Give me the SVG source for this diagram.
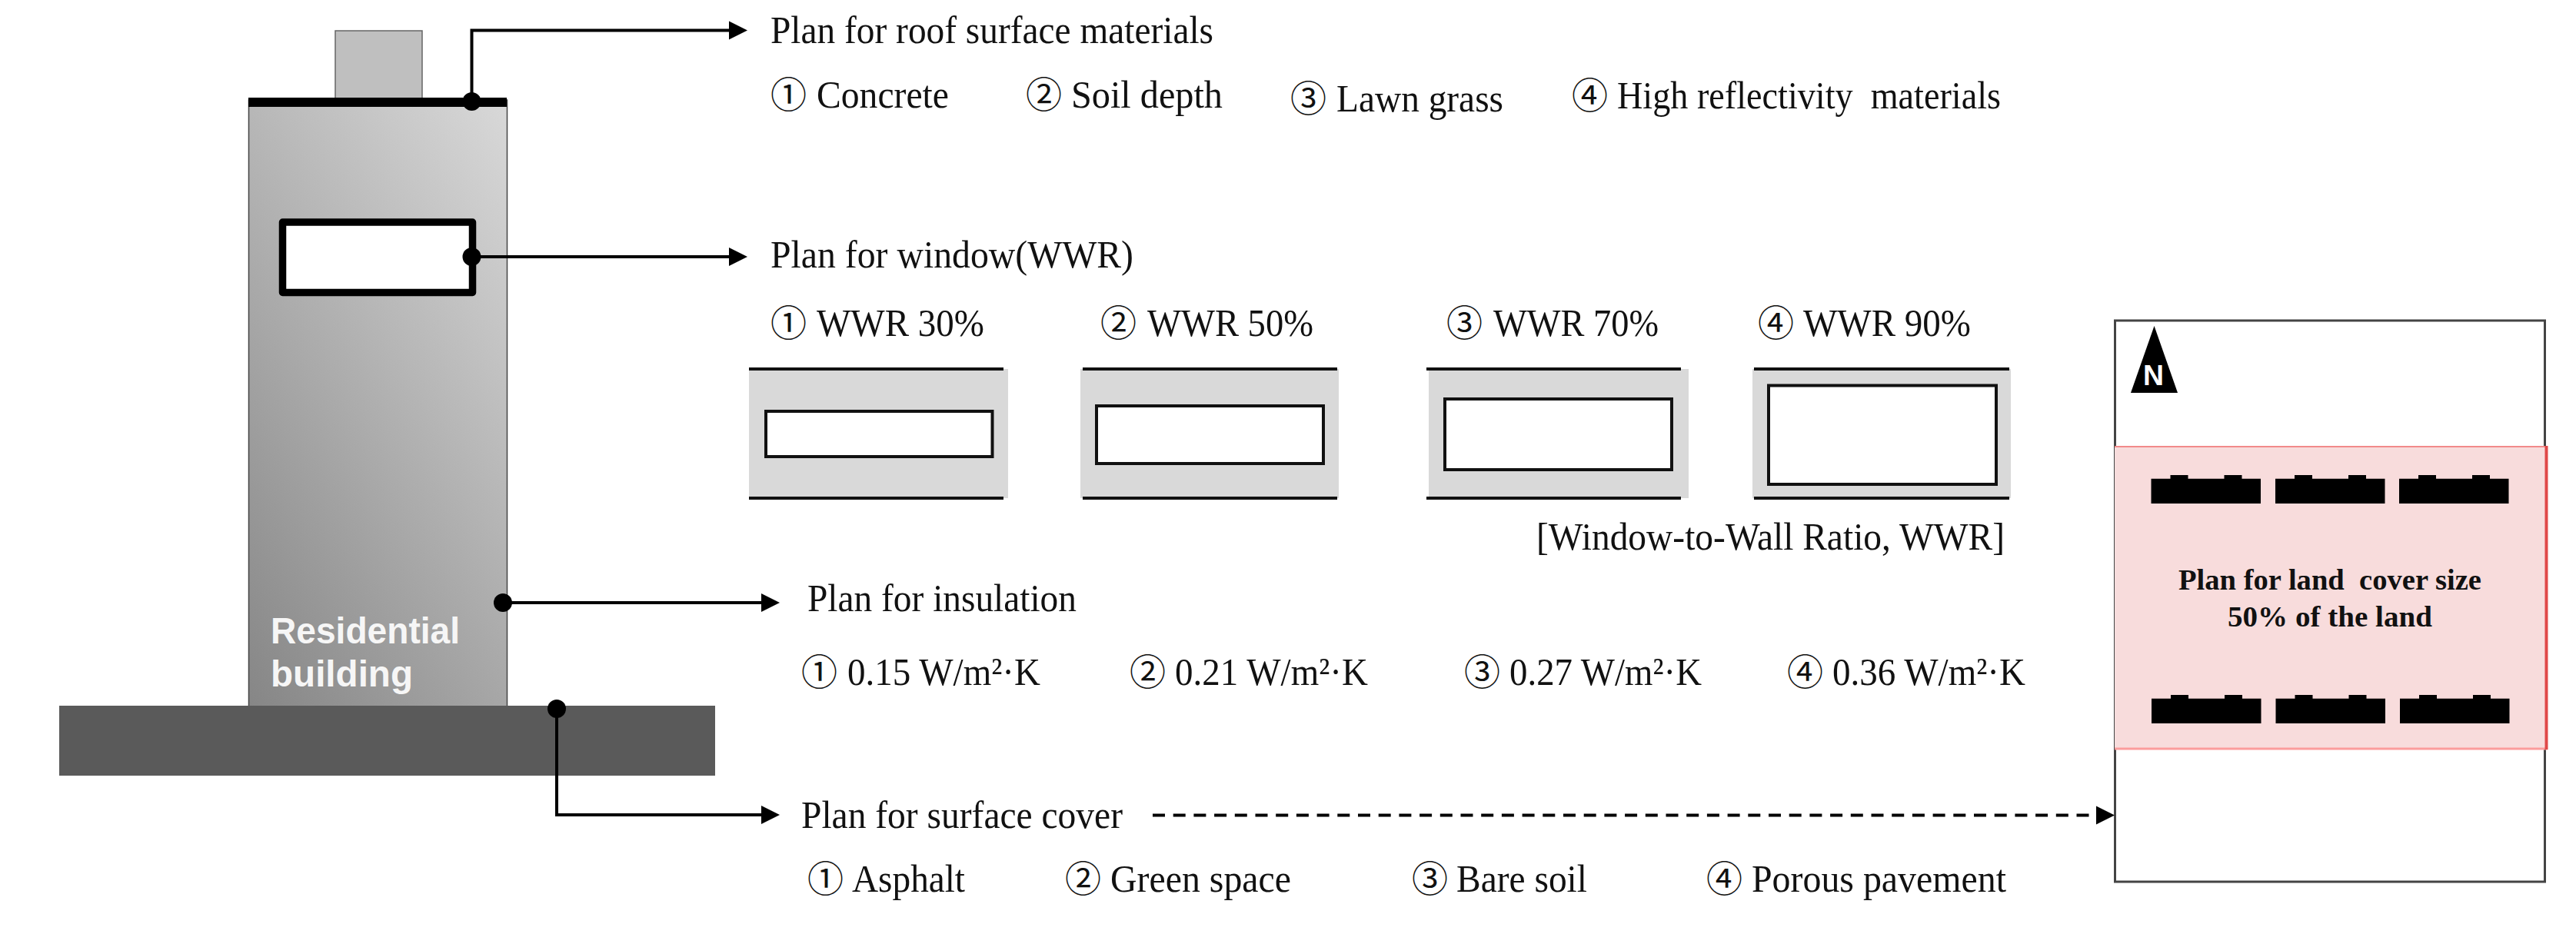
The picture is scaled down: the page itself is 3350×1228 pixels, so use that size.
<svg xmlns="http://www.w3.org/2000/svg" width="3350" height="1228" viewBox="0 0 3350 1228">
<style>
text{font-family:"Liberation Serif","Noto Sans CJK KR",serif;fill:#111;white-space:pre}
.t{font-size:50px}
.o{font-size:47px}
.b{font-size:38px;font-weight:700;fill:#111}
.w{font-family:"Liberation Sans",sans-serif;font-size:48px;font-weight:700;fill:#f6f6f6}
.n{font-family:"Liberation Sans",sans-serif;font-size:36px;font-weight:700;fill:#fff}
.wall{fill:#d9d9d9}
.edge{stroke:#111;stroke-width:4}
.win{fill:#fff;stroke:#111;stroke-width:4}
.house{fill:#000}
.c{fill:none;stroke:#000;stroke-width:4}
</style>
<defs>
<marker id="arrow" markerUnits="userSpaceOnUse" markerWidth="24" markerHeight="26" refX="14" refY="13" orient="auto"><path d="M0 1L24 13L0 25Z" fill="#000"/></marker>
<marker id="dot" markerUnits="userSpaceOnUse" markerWidth="26" markerHeight="26" refX="13" refY="13" orient="auto"><circle cx="13" cy="13" r="12" fill="#000"/></marker>
<linearGradient id="bld" gradientUnits="userSpaceOnUse" x1="323" y1="918" x2="915" y2="538"><stop offset="0" stop-color="#868686"/><stop offset="1" stop-color="#d8d8d8"/></linearGradient>
<path id="h" d="M0 4.700H25V0H48V4.700H95V0H118V4.700H142.500V37H0Z"/>
</defs>
<rect width="3350" height="1228" fill="#fff"/>
<g id="building">
<rect x="436" y="40" width="113" height="88" fill="#bfbfbf" stroke="#666" stroke-width="1.500"/>
<rect x="323.500" y="130" width="336" height="790" fill="url(#bld)" stroke="#444" stroke-width="1.500"/>
<rect x="323" y="127" width="336" height="12" fill="#000"/>
<rect x="367.500" y="289" width="247" height="91.500" fill="#fff" stroke="#000" stroke-width="9.500" stroke-linejoin="round"/>
<text class="w" x="352" y="837" textLength="246" lengthAdjust="spacingAndGlyphs">Residential</text>
<text class="w" x="352" y="893" textLength="185" lengthAdjust="spacingAndGlyphs">building</text>
</g>
<g id="ground"><rect x="77" y="918" width="853" height="91" fill="#5a5a5a"/></g>
<g id="wwr-30"><rect class="wall" x="974" y="480" width="337" height="168"/><path class="edge" d="M974 480H1305M974 648H1305"/><rect class="win" x="996" y="535" width="294.500" height="59"/></g>
<g id="wwr-50"><rect class="wall" x="1405" y="480" width="336" height="168"/><path class="edge" d="M1408 480H1739M1408 648H1739"/><rect class="win" x="1426" y="528" width="295" height="75"/></g>
<g id="wwr-70"><rect class="wall" x="1858" y="480" width="338" height="168"/><path class="edge" d="M1855 480H2186M1855 648H2186"/><rect class="win" x="1879" y="519" width="295" height="92"/></g>
<g id="wwr-90"><rect class="wall" x="2279" y="480" width="336" height="168"/><path class="edge" d="M2281 480H2613M2281 648H2613"/><rect class="win" x="2300" y="501.500" width="296" height="128.500"/></g>
<g id="site">
<rect x="2750.500" y="417" width="559" height="730" fill="#fff" stroke="#444" stroke-width="3"/>
<rect x="2750" y="580" width="563" height="394" fill="#f8dcdc"/>
<path d="M2750 581H3310" stroke="#f28a8a" stroke-width="2" fill="none"/>
<path d="M2750 974H3313" stroke="#fb9c9c" stroke-width="3" fill="none"/>
<path d="M3311.500 580V975" stroke="#e04848" stroke-width="4" fill="none"/>
<use class="house" href="#h" x="2797.500" y="618"/><use class="house" href="#h" x="2959" y="618"/><use class="house" href="#h" x="3120" y="618"/>
<use class="house" href="#h" x="2798" y="904"/><use class="house" href="#h" x="2959.500" y="904"/><use class="house" href="#h" x="3121" y="904"/>
<text class="b" x="2833" y="767" textLength="394" lengthAdjust="spacingAndGlyphs">Plan for land  cover size</text>
<text class="b" x="2897" y="815" textLength="266" lengthAdjust="spacingAndGlyphs">50% of the land</text>
<path d="M2801.500 424L2832 511H2771Z" fill="#000"/>
<text class="n" x="2787" y="501" textLength="27" lengthAdjust="spacingAndGlyphs">N</text>
</g>
<g id="connectors">
<path class="c" d="M613.500 132V39.500H962" marker-start="url(#dot)" marker-end="url(#arrow)"/>
<path class="c" d="M613.500 334H962" marker-start="url(#dot)" marker-end="url(#arrow)"/>
<path class="c" d="M654 784H1004" marker-start="url(#dot)" marker-end="url(#arrow)"/>
<path class="c" d="M724 922V1060H1004" marker-start="url(#dot)" marker-end="url(#arrow)"/>
<path class="c" d="M1499 1060.500H2740" stroke-dasharray="16 10.700" marker-end="url(#arrow)"/>
</g>
<g id="roof-labels">
<text class="t" x="1002" y="56" textLength="576" lengthAdjust="spacingAndGlyphs">Plan for roof surface materials</text>
<text class="t" x="1002" y="140"><tspan class="o">① </tspan><tspan x="1062" textLength="172" lengthAdjust="spacingAndGlyphs">Concrete</tspan></text>
<text class="t" x="1334" y="140"><tspan class="o">② </tspan><tspan x="1393" textLength="197" lengthAdjust="spacingAndGlyphs">Soil depth</tspan></text>
<text class="t" x="1678" y="145"><tspan class="o">③ </tspan><tspan x="1738" textLength="217" lengthAdjust="spacingAndGlyphs">Lawn grass</tspan></text>
<text class="t" x="2044" y="141"><tspan class="o">④ </tspan><tspan x="2103" textLength="499" lengthAdjust="spacingAndGlyphs">High reflectivity  materials</tspan></text>
</g>
<g id="window-labels">
<text class="t" x="1002" y="348" textLength="472" lengthAdjust="spacingAndGlyphs">Plan for window(WWR)</text>
<text class="t" x="1002" y="437"><tspan class="o">① </tspan><tspan x="1062" textLength="218" lengthAdjust="spacingAndGlyphs">WWR 30%</tspan></text>
<text class="t" x="1431" y="437"><tspan class="o">② </tspan><tspan x="1492" textLength="216" lengthAdjust="spacingAndGlyphs">WWR 50%</tspan></text>
<text class="t" x="1881" y="437"><tspan class="o">③ </tspan><tspan x="1942" textLength="215" lengthAdjust="spacingAndGlyphs">WWR 70%</tspan></text>
<text class="t" x="2286" y="437"><tspan class="o">④ </tspan><tspan x="2345" textLength="218" lengthAdjust="spacingAndGlyphs">WWR 90%</tspan></text>
<text class="t" x="1998" y="715" textLength="609" lengthAdjust="spacingAndGlyphs">[Window-to-Wall Ratio, WWR]</text>
</g>
<g id="insulation-labels">
<text class="t" x="1050" y="795" textLength="350" lengthAdjust="spacingAndGlyphs">Plan for insulation</text>
<text class="t" x="1042" y="891"><tspan class="o">① </tspan><tspan x="1102" textLength="251" lengthAdjust="spacingAndGlyphs">0.15 W/m²·K</tspan></text>
<text class="t" x="1469" y="891"><tspan class="o">② </tspan><tspan x="1528" textLength="251" lengthAdjust="spacingAndGlyphs">0.21 W/m²·K</tspan></text>
<text class="t" x="1904" y="891"><tspan class="o">③ </tspan><tspan x="1963" textLength="250" lengthAdjust="spacingAndGlyphs">0.27 W/m²·K</tspan></text>
<text class="t" x="2324" y="891"><tspan class="o">④ </tspan><tspan x="2383" textLength="251" lengthAdjust="spacingAndGlyphs">0.36 W/m²·K</tspan></text>
</g>
<g id="cover-labels">
<text class="t" x="1042" y="1077" textLength="418" lengthAdjust="spacingAndGlyphs">Plan for surface cover</text>
<text class="t" x="1050" y="1160"><tspan class="o">① </tspan><tspan x="1108" textLength="147" lengthAdjust="spacingAndGlyphs">Asphalt</tspan></text>
<text class="t" x="1385" y="1160"><tspan class="o">② </tspan><tspan x="1444" textLength="235" lengthAdjust="spacingAndGlyphs">Green space</tspan></text>
<text class="t" x="1836" y="1160"><tspan class="o">③ </tspan><tspan x="1894" textLength="170" lengthAdjust="spacingAndGlyphs">Bare soil</tspan></text>
<text class="t" x="2219" y="1160"><tspan class="o">④ </tspan><tspan x="2278" textLength="331" lengthAdjust="spacingAndGlyphs">Porous pavement</tspan></text>
</g>
</svg>
